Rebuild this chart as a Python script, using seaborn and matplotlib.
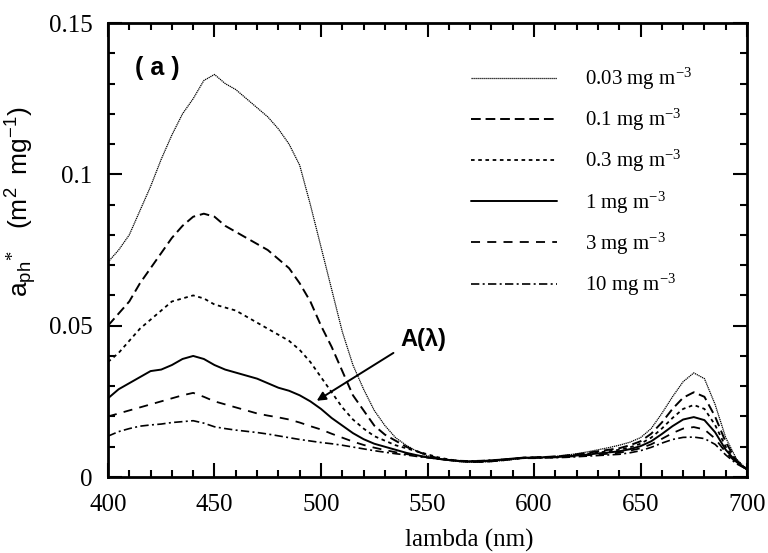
import numpy as np
import pandas as pd
import matplotlib
matplotlib.use("Agg")
import matplotlib.pyplot as plt
import seaborn as sns
from matplotlib.ticker import MultipleLocator, FixedLocator, FixedFormatter

# wavelengths (nm), 5 nm steps
wavelength = list(range(400, 705, 5))

# specific absorption a_ph* (m2 mg-1)
chl_003 = [.071, .075, .080, .088, .096, .105, .113, .120, .125, .131, .133, .130, .128, .125, .122,
           .119, .115, .110, .103, .090, .076, .062, .048, .037, .029, .022, .017, .013, .0105, .0085,
           .0070, .0060, .0055, .0051, .0049, .0049, .0051, .0054, .0058, .0062, .0064, .0066, .0068,
           .0072, .0077, .0083, .0090, .0097, .0105, .0115, .0130, .0160, .0210, .0265, .0315, .0344,
           .0325, .0240, .0130, .0060, .0025]
chl_01 = [.050, .054, .058, .064, .069, .074, .079, .083, .086, .087, .086, .083, .081, .079, .077,
          .075, .072, .069, .064, .058, .050, .043, .035, .027, .022, .017, .014, .012, .010, .0085,
          .0072, .0062, .0056, .0052, .0050, .0050, .0052, .0055, .0059, .0063, .0065, .0066, .0068,
          .0071, .0075, .0080, .0085, .0090, .0095, .0105, .0118, .0143, .0180, .0225, .0262, .0280,
          .0265, .0200, .0115, .0055, .0025]
chl_03 = [.038, .041, .045, .049, .052, .055, .058, .059, .060, .059, .057, .056, .055, .053, .051,
          .049, .047, .045, .042, .038, .033, .028, .023, .019, .016, .0135, .012, .0105, .0095, .0085,
          .0075, .0065, .0058, .0053, .0051, .0051, .0053, .0056, .0060, .0064, .0065, .0066, .0067,
          .0070, .0073, .0077, .0081, .0085, .0090, .0098, .0110, .0130, .0160, .0195, .0225, .0238,
          .0225, .0172, .0100, .0052, .0025]
chl_1 = [.026, .029, .031, .033, .035, .0355, .037, .039, .040, .039, .037, .0355, .0345, .0335, .0325,
         .031, .0295, .0285, .027, .025, .0225, .0195, .017, .0145, .0125, .011, .010, .009, .008, .0072,
         .0065, .0060, .0056, .0053, .0051, .0052, .0054, .0057, .0061, .0064, .0064, .0065, .0066,
         .0068, .0071, .0074, .0078, .0081, .0085, .0092, .0102, .0118, .0142, .0168, .0190, .0198,
         .0188, .0148, .0090, .0050, .0025]
chl_3 = [.020, .021, .022, .023, .024, .025, .026, .027, .0278, .0265, .025, .024, .023, .022, .021,
         .0203, .0197, .019, .018, .0168, .0157, .0143, .013, .0117, .0106, .0097, .0089, .0082, .0076,
         .0070, .0065, .0060, .0056, .0053, .0052, .0053, .0055, .0058, .0061, .0063, .0063, .0064,
         .0065, .0067, .0069, .0072, .0074, .0077, .0080, .0087, .0095, .0108, .0126, .0145, .0160,
         .0165, .0157, .0127, .0082, .0047, .0025]
chl_10 = [.0135, .015, .016, .0168, .0172, .0175, .018, .0183, .0186, .0178, .0166, .016, .0155, .0151,
          .0147, .0142, .0136, .013, .0124, .0119, .0114, .011, .0105, .0099, .0093, .0087, .0082, .0077,
          .0073, .0068, .0064, .0060, .0057, .0054, .0053, .0054, .0056, .0058, .0060, .0062, .0062,
          .0063, .0064, .0065, .0067, .0069, .0071, .0073, .0075, .0080, .0087, .0098, .0112, .0124,
          .0131, .0132, .0127, .0108, .0073, .0044, .0025]

labels = ["0.03 mg m$^{-3}$", "0.1 mg m$^{-3}$", "0.3 mg m$^{-3}$",
          "1 mg m$^{-3}$", "3 mg m$^{-3}$", "10 mg m$^{-3}$"]
series = [chl_003, chl_01, chl_03, chl_1, chl_3, chl_10]
styles = [(0, (1, 0.6)), (0, (5, 2.5)), (0, (2, 2)), "-", (0, (5, 4)), (0, (5, 2, 1.2, 2))]
widths = [0.9, 1.4, 1.3, 1.4, 1.3, 1.2]

sns.set_style("ticks")
plt.rcParams["font.family"] = ["Liberation Serif", "DejaVu Serif"]
plt.rcParams["mathtext.fontset"] = "custom"
plt.rcParams["mathtext.rm"] = "Liberation Serif"
plt.rcParams["mathtext.it"] = "Liberation Serif:italic"
plt.rcParams["mathtext.bf"] = "Liberation Serif:bold"
plt.rcParams["mathtext.sf"] = "Liberation Sans"
for key in ["text.color", "axes.labelcolor", "xtick.color", "ytick.color", "axes.edgecolor"]:
    plt.rcParams[key] = "black"

fig = plt.figure(figsize=(7.68, 5.53), dpi=100)
ax = fig.add_axes([0.1406, 0.1374, 0.8321, 0.8210])

for vals, lab, ls, lw in zip(series, labels, styles, widths):
    df = pd.DataFrame({"wl": wavelength, "a": vals})
    sns.lineplot(data=df, x="wl", y="a", ax=ax, color="black", linestyle=ls,
                 linewidth=lw, label=lab, errorbar=None)

ax.set_xlim(400, 700)
ax.set_ylim(0, 0.15)
ax.xaxis.set_major_locator(MultipleLocator(50))
ax.xaxis.set_minor_locator(MultipleLocator(10))
ax.yaxis.set_major_locator(FixedLocator([0, 0.05, 0.1, 0.15]))
ax.yaxis.set_major_formatter(FixedFormatter(["0", "0.05", "0.1", "0.15"]))
ax.yaxis.set_minor_locator(MultipleLocator(0.01))
ax.tick_params(which="both", direction="in", top=True, right=True, labelsize=18, width=1.5)
ax.tick_params(which="major", length=10)
ax.tick_params(which="minor", length=5)
ax.tick_params(axis="x", which="major", pad=12)
ax.tick_params(axis="y", which="major", pad=11)
for sp in ax.spines.values():
    sp.set_linewidth(2)

ax.set_xlabel("lambda (nm)", fontsize=18)
ax.xaxis.set_label_coords(0.566, -0.114)
ax.set_ylabel(r"$\mathsf{a_{ph}}^{*}$   $\mathsf{(m^2\ \ mg^{-1})}$", fontsize=19,
              family=["Liberation Sans", "DejaVu Sans"])
ax.yaxis.set_label_coords(-0.108, 0.606)

ax.text(423, 0.135, "( a )", fontsize=18, fontweight="bold",
        family=["Liberation Sans", "DejaVu Sans"], va="center", ha="center")
ax.text(548, 0.0455, "A(λ)", fontsize=17, fontweight="bold",
        family=["Liberation Sans", "DejaVu Sans"], va="center", ha="center")
ax.annotate("", xy=(498, 0.0252), xytext=(534, 0.041),
            arrowprops=dict(arrowstyle="-|>", color="black", lw=1.4,
                            shrinkA=0, shrinkB=0, mutation_scale=13))

leg = ax.legend(loc="upper right", bbox_to_anchor=(0.943, 0.947), frameon=False,
                fontsize=15, handlelength=4.1, handletextpad=1.35, labelspacing=0.72)

fig.savefig("out.png", dpi=100)
